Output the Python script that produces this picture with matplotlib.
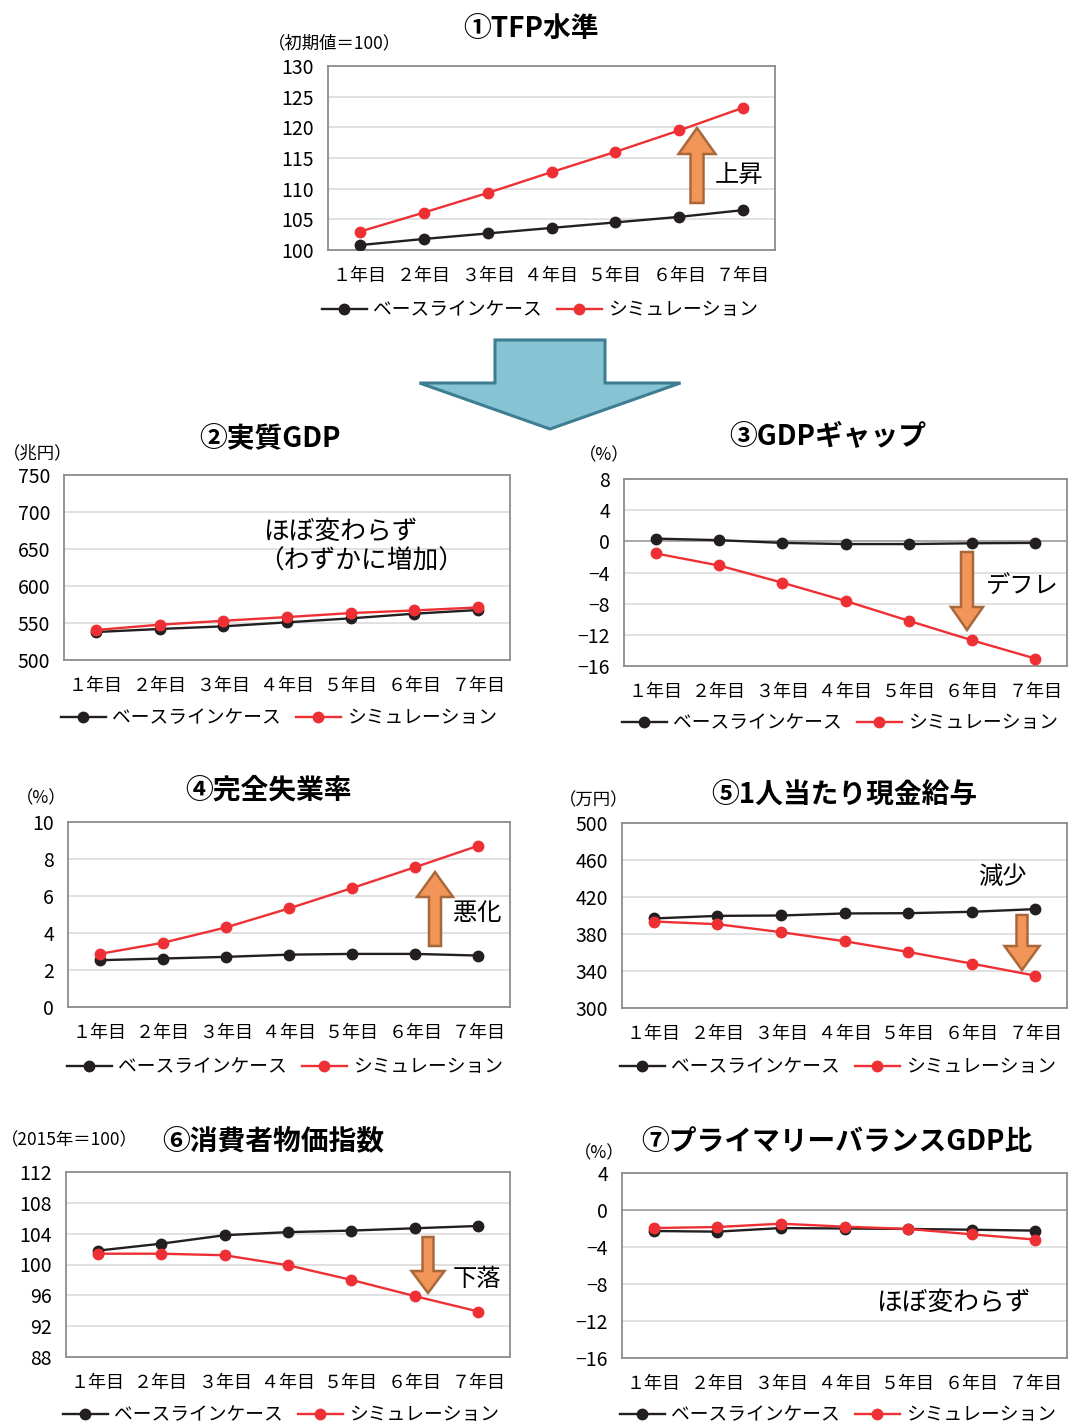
import matplotlib.pyplot as plt
import matplotlib.transforms as mtransforms
from matplotlib.patches import Polygon
import numpy as np

plt.rcParams['font.family'] = ['Noto Sans CJK JP', 'DejaVu Sans']

W, H = 1068, 1425

YEARS = ['１年目', '２年目', '３年目', '４年目', '５年目', '６年目', '７年目']
LEGEND = ['ベースラインケース', 'シミュレーション']

# values
tfp_base = [100.8, 101.8, 102.7, 103.6, 104.5, 105.4, 106.5]
tfp_sim = [103.0, 106.1, 109.3, 112.7, 116.0, 119.5, 123.2]

gdp_base = [537.8, 541.9, 545.5, 550.9, 556.3, 562.6, 567.6]
gdp_sim = [540.5, 547.7, 553.0, 558.0, 563.4, 567.0, 571.0]

gap_base = [0.35, 0.15, -0.2, -0.35, -0.35, -0.25, -0.2]
gap_sim = [-1.55, -3.1, -5.3, -7.65, -10.2, -12.7, -15.05]

unemp_base = [2.53, 2.62, 2.71, 2.83, 2.87, 2.87, 2.78]
unemp_sim = [2.87, 3.47, 4.3, 5.33, 6.43, 7.56, 8.72]

wage_base = [396.8, 399.6, 400.0, 402.2, 402.5, 404.0, 406.9]
wage_sim = [393.5, 390.6, 382.0, 372.2, 360.6, 348.0, 335.0]

cpi_base = [101.8, 102.7, 103.8, 104.2, 104.4, 104.7, 105.0]
cpi_sim = [101.4, 101.4, 101.2, 99.9, 98.0, 95.9, 93.9]

pb_base = [-2.27, -2.34, -1.95, -2.0, -2.05, -2.13, -2.23]
pb_sim = [-1.95, -1.84, -1.48, -1.8, -2.05, -2.63, -3.2]

BLACK = '#231f20'
RED = '#ee3035'
GRID = '#d9d9d9'
SPINE = '#8c8c8c'
ARROW_FILL = '#f29558'
ARROW_EDGE = '#a9683a'

fig = plt.figure(figsize=(W / 100, H / 100), dpi=100)
# pixel coordinates, origin top-left
px = mtransforms.Affine2D().scale(1.0 / W, -1.0 / H).translate(0, 1) + fig.transFigure


def panel(box, base, sim, ylim, step, title, title_xy, unit, unit_xy, legend_xy, zero=False):
    l, t, r, b = box
    ax = fig.add_axes([l / W, 1 - b / H, (r - l) / W, (b - t) / H])
    x = np.arange(1, len(YEARS) + 1)
    ax.plot(x, base, color=BLACK, lw=1.7, marker='o', ms=7.5, label=LEGEND[0], zorder=3)
    ax.plot(x, sim, color=RED, lw=1.7, marker='o', ms=7.5, label=LEGEND[1], zorder=4)
    ax.set_xlim(0.5, len(YEARS) + 0.5)
    ax.set_ylim(*ylim)
    ax.set_yticks(np.arange(ylim[0], ylim[1] + step / 2.0, step))
    ax.set_xticks(x)
    ax.set_xticklabels(YEARS, fontsize=13)
    ax.tick_params(axis='x', length=0, pad=12)
    ax.tick_params(axis='y', length=0, pad=10, labelsize=14)
    ax.grid(axis='y', color=GRID, lw=1.1)
    ax.set_axisbelow(True)
    for s in ax.spines.values():
        s.set_color(SPINE)
        s.set_linewidth(1.3)
    if zero:
        ax.axhline(0, color='#a0a0a0', lw=1.2, zorder=2)
    fig.text(title_xy[0], title_xy[1], title, transform=px, ha='center', va='center',
             fontsize=20, fontweight='bold')
    fig.text(unit_xy[0], unit_xy[1], unit, transform=px, ha='center', va='center',
             fontsize=12.5)
    ax.legend(loc='center', bbox_to_anchor=legend_xy, bbox_transform=px, ncol=2,
              frameon=False, fontsize=13.5, handlelength=2.4, handletextpad=0.35,
              columnspacing=0.8, borderaxespad=0)
    return ax


def arrow(cx, y0, y1, shaft, head_w, head_len, fc=ARROW_FILL, ec=ARROW_EDGE, lw=1.8):
    d = 1 if y1 > y0 else -1
    yb = y1 - d * head_len
    pts = [(cx - shaft / 2.0, y0), (cx - shaft / 2.0, yb), (cx - head_w / 2.0, yb), (cx, y1),
           (cx + head_w / 2.0, yb), (cx + shaft / 2.0, yb), (cx + shaft / 2.0, y0)]
    fig.add_artist(Polygon(pts, closed=True, transform=px, fc=fc, ec=ec, lw=lw, joinstyle='miter'))


def note(x, y, s, ha='center', size=17.5):
    fig.text(x, y, s, transform=px, ha=ha, va='center', fontsize=size)


panel((328, 66, 775, 250), tfp_base, tfp_sim, (100, 130), 5, '①TFP水準', (531, 29),
      '（初期値＝100）', (334, 43), (540, 310))
arrow(697, 203, 128, 13, 37, 26)
note(739, 175, '上昇')

# big arrow between the rows
arrow(550, 340, 429, 110, 261, 46, fc='#86c4d3', ec='#3e7e92', lw=2.2)

panel((64, 475, 510, 660), gdp_base, gdp_sim, (500, 750), 50, '②実質GDP', (270, 438),
      '（兆円）', (38, 453), (279, 718))
note(263, 532, 'ほぼ変わらず', ha='left', size=18.5)
note(258, 562, '（わずかに増加）', ha='left', size=18.5)

panel((624, 479, 1067, 666), gap_base, gap_sim, (-16, 8), 4, '③GDPギャップ', (828, 437),
      '（%）', (604, 455), (840, 723), zero=True)
arrow(967, 552, 630, 12, 32, 23)
note(1022, 587, 'デフレ')

panel((68, 822, 510, 1007), unemp_base, unemp_sim, (0, 10), 2, '④完全失業率', (268, 790),
      '（%）', (41, 798), (285, 1067))
arrow(435, 946, 872, 12, 36, 25)
note(477, 913, '悪化')

panel((622, 823, 1067, 1008), wage_base, wage_sim, (300, 500), 40, '⑤1人当たり現金給与', (844, 795),
      '（万円）', (594, 800), (838, 1067))
arrow(1022, 915, 970, 11, 35, 24)
note(1002, 877, '減少')

panel((66, 1172, 510, 1357), cpi_base, cpi_sim, (88, 112), 4, '⑥消費者物価指数', (273, 1141),
      '（2015年＝100）', (69, 1140), (281, 1415))
arrow(428, 1237, 1293, 11, 33, 22)
note(477, 1279, '下落')

panel((622, 1173, 1067, 1358), pb_base, pb_sim, (-16, 4), 4, '⑦プライマリーバランスGDP比', (837, 1142),
      '（%）', (599, 1153), (838, 1415), zero=True)
note(953, 1303, 'ほぼ変わらず', size=18.5)

fig.savefig('out.png', dpi=100)
